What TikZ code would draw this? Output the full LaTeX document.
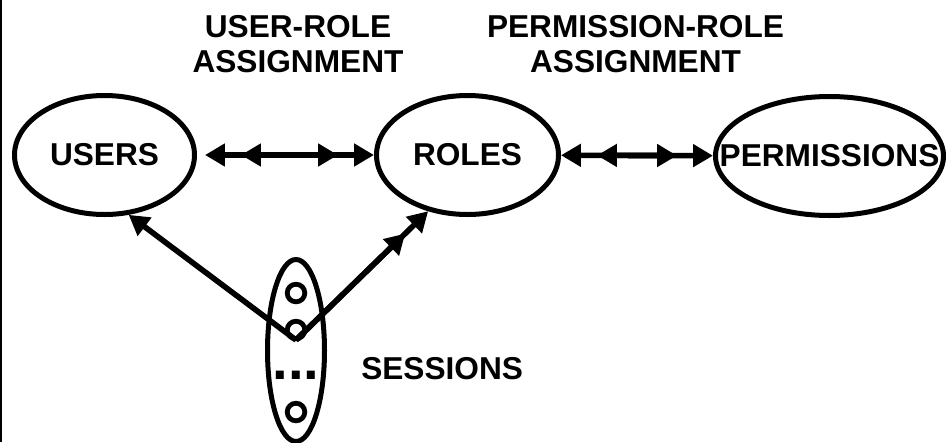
\documentclass[tikz,border=0pt]{standalone}
\usepackage{fontspec}
\setmainfont{Liberation Sans}
\usetikzlibrary{arrows.meta,shapes.geometric}

\begin{document}
\begin{tikzpicture}[
        >={Triangle[length=14.2pt, width=15.6pt]},
        set/.style={ellipse, draw, line width=0.125cm, inner sep=0pt, label={[font=\fontsize{22.5}{25}\selectfont\bfseries]center:#1}},
        item/.style={circle, draw, line width=0.12cm, minimum size=0.44cm, inner sep=0pt},
        caption/.style={inner sep=0pt, align=center, font=\fontsize{22.5}{24.9}\selectfont\bfseries},
        link/.style={line width=0.14cm},
        inner tip/.style={shorten <=0.9cm, shorten >=0.9cm},
    ]
        \useasboundingbox (0, 0) rectangle (23.65, -11.05);
        \draw[line width=0.05cm] (0.025, 0) -- (0.025, -11.05);

        \node[set=USERS, minimum width=4.5cm, minimum height=2.975cm] (users) at (2.6125, -3.875) {};
        \node[set=ROLES, minimum width=4.55cm, minimum height=2.975cm] (roles) at (11.6875, -3.875) {};
        \node[set=PERMISSIONS, minimum width=5.7cm, minimum height=2.975cm] (perms) at (20.7375, -3.9) {};
        \node[set=, minimum width=1.425cm, minimum height=4.55cm] (sessions) at (7.4, -8.7625) {};

        \node[item] (s1) at (7.4, -7.325) {};
        \node[item] (s2) at (7.4, -8.25) {};
        \node[item] (s3) at (7.4, -10.3) {};
        \node[inner sep=0pt, font=\fontsize{40}{42}\selectfont\bfseries] (dots) at (7.4, -9.375) {...};
        \coordinate (fork) at (7.4, -8.5);

        \node[caption, anchor=north] (ura) at (7.45, -0.375) {USER-ROLE\\ASSIGNMENT};
        \node[caption, anchor=north] (pra) at (15.8875, -0.375) {PERMISSION-ROLE\\ASSIGNMENT};
        \node[caption, anchor=west] (sesslabel) at (9.025, -9.2125) {SESSIONS};

        % double heads: outer pair at the ellipses, inner pair set back
        \draw[link, <->, shorten <=0.2cm] (users) -- (roles);
        \draw[link, <->, inner tip, shorten <=1.1cm] (users) -- (roles);
        \draw[link, <->] (roles) -- (perms);
        \draw[link, <->, inner tip] (roles) -- (perms);

        \draw[link, ->] (fork) -- (users.-68);
        \draw[link, ->] (fork) -- (roles.235);
        \draw[link, ->, shorten >=0.8cm] (fork) -- (roles.235);
\end{tikzpicture}
\end{document}
